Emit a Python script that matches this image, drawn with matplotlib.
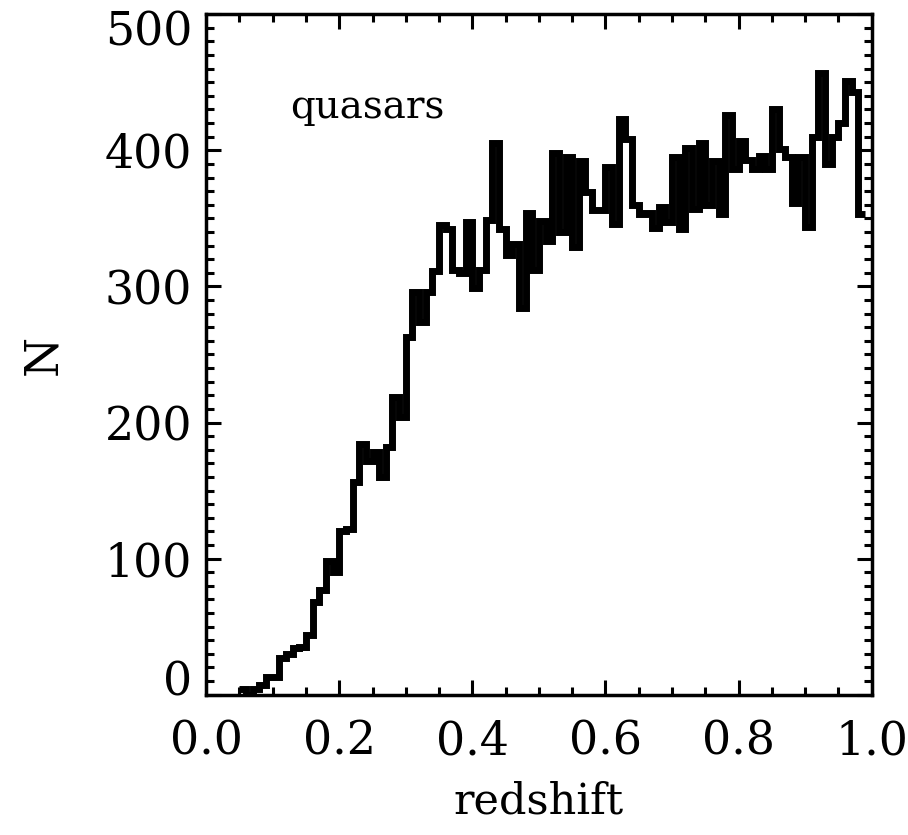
import numpy as np
import matplotlib.pyplot as plt
from matplotlib.ticker import MultipleLocator
from matplotlib.transforms import ScaledTranslation

# quasar counts per redshift bin (bin width 0.01, left edges 0.05 ... 0.98)
z_start = 0.05
bin_width = 0.01
counts = [
    4, 0, 4, 7, 13, 13, 27, 30, 34, 35,
    44, 68, 77, 98, 90, 120, 122, 156, 184, 172,
    178, 160, 182, 219, 204, 263, 296, 274, 296, 311,
    345, 342, 312, 310, 347, 299, 312, 349, 405, 342,
    323, 331, 284, 354, 312, 348, 333, 398, 340, 395,
    329, 392, 369, 356, 356, 388, 346, 423, 408, 360,
    353, 354, 343, 358, 347, 395, 342, 402, 357, 405,
    360, 392, 353, 426, 386, 407, 393, 386, 396, 386,
    430, 401, 395, 361, 395, 344, 410, 457, 390, 410,
    420, 451, 443, 353,
]
x_ticks = [0.0, 0.2, 0.4, 0.6, 0.8, 1.0]
x_labels = ['0.0', '0.2', '0.4', '0.6', '0.8', '1.0']
y_ticks = [0, 100, 200, 300, 400, 500]
y_labels = ['0', '100', '200', '300', '400', '500']

edges = z_start + bin_width * np.arange(len(counts) + 1)

plt.rcParams['font.family'] = ['DejaVu Serif']

fig = plt.figure(figsize=(9.08, 8.35), dpi=100)
ax = fig.add_axes([0.227, 0.168, 0.733, 0.815])

ax.stairs(counts, edges, baseline=None, color='black', linewidth=5)

ax.set_xlim(0, 1.0)
ax.set_ylim(0, 500)
ax.set_xticks(x_ticks, labels=x_labels)
ax.set_yticks(y_ticks, labels=y_labels)
ax.xaxis.set_minor_locator(MultipleLocator(0.05))
ax.yaxis.set_minor_locator(MultipleLocator(10))

ax.tick_params(which='both', direction='in', top=True, right=True, labelsize=33, width=2.2)
ax.tick_params(which='major', length=11)
ax.tick_params(which='minor', length=6)
ax.tick_params(axis='x', pad=18)
ax.tick_params(axis='y', pad=10)
for s in ax.spines.values():
    s.set_linewidth(2.5)

# end labels on the y axis sit inside the frame, as in the original
yt = ax.yaxis.get_major_ticks()
yt[0].label1.set_transform(yt[0].label1.get_transform()
                           + ScaledTranslation(0, 12 / 72, fig.dpi_scale_trans))
yt[-1].label1.set_transform(yt[-1].label1.get_transform()
                            + ScaledTranslation(0, -10 / 72, fig.dpi_scale_trans))

ax.set_xlabel('redshift', fontsize=31, labelpad=11)
ax.set_ylabel('N', fontsize=33, labelpad=28)
ax.text(0.126, 0.847, 'quasars', transform=ax.transAxes, fontsize=28, va='baseline')

fig.savefig('out.png', dpi=100)
